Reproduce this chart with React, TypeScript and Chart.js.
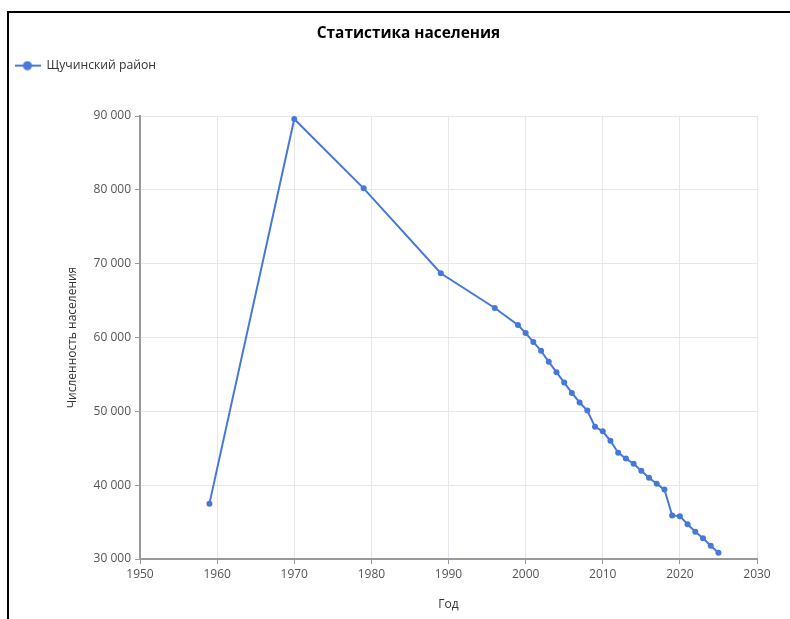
import React, { useEffect, useRef } from 'react';
import { Chart, registerables } from 'chart.js';

Chart.register(...registerables);

const chartTitle = 'Статистика населения';
const seriesLabel = 'Щучинский район';
const xAxisTitle = 'Год';
const yAxisTitle = 'Численность населения';

const years = [
  1959, 1970, 1979, 1989, 1996, 1999, 2000, 2001, 2002, 2003, 2004, 2005, 2006,
  2007, 2008, 2009, 2010, 2011, 2012, 2013, 2014, 2015, 2016, 2017, 2018, 2019,
  2020, 2021, 2022, 2023, 2024, 2025,
];
const population = [
  37500, 89600, 80200, 68700, 64000, 61700, 60600, 59400, 58200, 56700, 55300,
  53900, 52500, 51200, 50100, 47900, 47300, 46000, 44400, 43600, 42900, 41950,
  41000, 40200, 39400, 35900, 35800, 34700, 33700, 32800, 31800, 30850,
];

const X_MIN = 1950;
const X_MAX = 2030;
const X_STEP = 10;
const Y_MIN = 30000;
const Y_MAX = 90000;
const Y_STEP = 10000;

const LINE_COLOR = '#4677da';
const FONT = "'Open Sans', 'Noto Sans', sans-serif";

function formatThousands(v: number): string {
  return String(Math.round(v)).replace(/\B(?=(\d{3})+(?!\d))/g, ' ');
}

function makeLegendIcon(): HTMLCanvasElement {
  const c = document.createElement('canvas');
  c.width = 26;
  c.height = 10;
  const ctx = c.getContext('2d')!;
  ctx.strokeStyle = LINE_COLOR;
  ctx.lineWidth = 2;
  ctx.beginPath();
  ctx.moveTo(0, 5);
  ctx.lineTo(26, 5);
  ctx.stroke();
  ctx.fillStyle = LINE_COLOR;
  ctx.beginPath();
  ctx.arc(13, 5, 4.5, 0, Math.PI * 2);
  ctx.fill();
  return c;
}

const TITLE_PAD_TOP = 11;
const TITLE_PAD_BOTTOM = 11.5;
const TITLE_SIZE = 15.4;
const CHART_TOP = 103;
const LEGEND_HEIGHT = CHART_TOP - (TITLE_PAD_TOP + TITLE_SIZE * 1.2 + TITLE_PAD_BOTTOM);

const layoutPatchPlugin = {
  id: 'layoutPatch',
  beforeLayout(chart: any) {
    const lg = chart.legend;
    if (lg && !lg.__patched) {
      const protoFit = Object.getPrototypeOf(lg).fit;
      lg.fit = function () {
        protoFit.call(this);
        this.height = LEGEND_HEIGHT;
      };
      lg.__patched = true;
    }
  },
  afterLayout(chart: any) {
    const tb = chart.titleBlock;
    if (tb) {
      tb.left = 0;
      tb.right = chart.width;
      tb.width = chart.width;
    }
  },
};

export default function App() {
  const canvasRef = useRef<HTMLCanvasElement | null>(null);

  useEffect(() => {
    if (!canvasRef.current) return;
    document.body.style.overflow = 'hidden';
    const icon = makeLegendIcon();
    const chart = new Chart(canvasRef.current, {
      type: 'line',
      data: {
        datasets: [
          {
            label: seriesLabel,
            data: years.map((y, i) => ({ x: y, y: population[i] })),
            borderColor: LINE_COLOR,
            backgroundColor: LINE_COLOR,
            borderWidth: 2,
            pointRadius: 3,
            pointHoverRadius: 3,
            pointBackgroundColor: LINE_COLOR,
            pointBorderWidth: 0,
            tension: 0,
            fill: false,
          },
        ],
      },
      options: {
        animation: false,
        responsive: false,
        maintainAspectRatio: false,
        layout: { padding: { left: 0, right: 51, top: 0, bottom: 0 } },
        plugins: {
          title: {
            display: true,
            text: chartTitle,
            color: '#000',
            font: { family: FONT, size: TITLE_SIZE, weight: 'bold' },
            padding: { top: TITLE_PAD_TOP, bottom: TITLE_PAD_BOTTOM },
          },
          legend: {
            display: true,
            position: 'top',
            align: 'start',
            labels: {
              usePointStyle: true,
              pointStyle: icon as any,
              pointStyleWidth: 26,
              padding: 5.5,
              color: '#333',
              font: { family: FONT, size: 12.2 },
            },
          },
          tooltip: { enabled: false },
        },
        scales: {
          x: {
            type: 'linear',
            min: X_MIN,
            max: X_MAX,
            afterFit(scale: any) {
              scale.height = 60;
            },
            ticks: {
              stepSize: X_STEP,
              color: '#555',
              padding: 3,
              font: { family: FONT, size: 12 },
              callback: (v: any) => String(v),
            },
            grid: {
              color: '#e6e6ee',
              tickColor: '#999',
              tickLength: 5,
              lineWidth: 1,
            },
            border: { color: '#999', width: 2 },
            title: {
              display: true,
              text: xAxisTitle,
              color: '#333',
              font: { family: FONT, size: 12 },
              padding: { top: 0, bottom: 6.8 },
            },
          },
          y: {
            type: 'linear',
            min: Y_MIN,
            max: Y_MAX,
            afterFit(scale: any) {
              scale.width = 131;
            },
            ticks: {
              stepSize: Y_STEP,
              color: '#555',
              padding: 4,
              font: { family: FONT, size: 12 },
              callback: (v: any) => formatThousands(Number(v)),
            },
            grid: {
              color: '#e6e6ee',
              tickColor: '#999',
              tickLength: 5,
              lineWidth: 1,
            },
            border: { color: '#999', width: 2 },
            title: {
              display: true,
              text: yAxisTitle,
              color: '#333',
              font: { family: FONT, size: 12 },
              padding: { top: 56.3, bottom: 0 },
            },
          },
        },
      },
      plugins: [layoutPatchPlugin],
    });
    return () => chart.destroy();
  }, []);

  return (
    <div
      style={{
        position: 'fixed',
        left: 7,
        top: 11,
        width: 783,
        height: 608,
        overflow: 'hidden',
        borderTop: '2px solid #000',
        borderLeft: '2px solid #000',
        background: '#fff',
      }}
    >
      <canvas
        ref={canvasRef}
        width={799}
        height={606}
        style={{ display: 'block', width: 799, height: 606 }}
      />
    </div>
  );
}
